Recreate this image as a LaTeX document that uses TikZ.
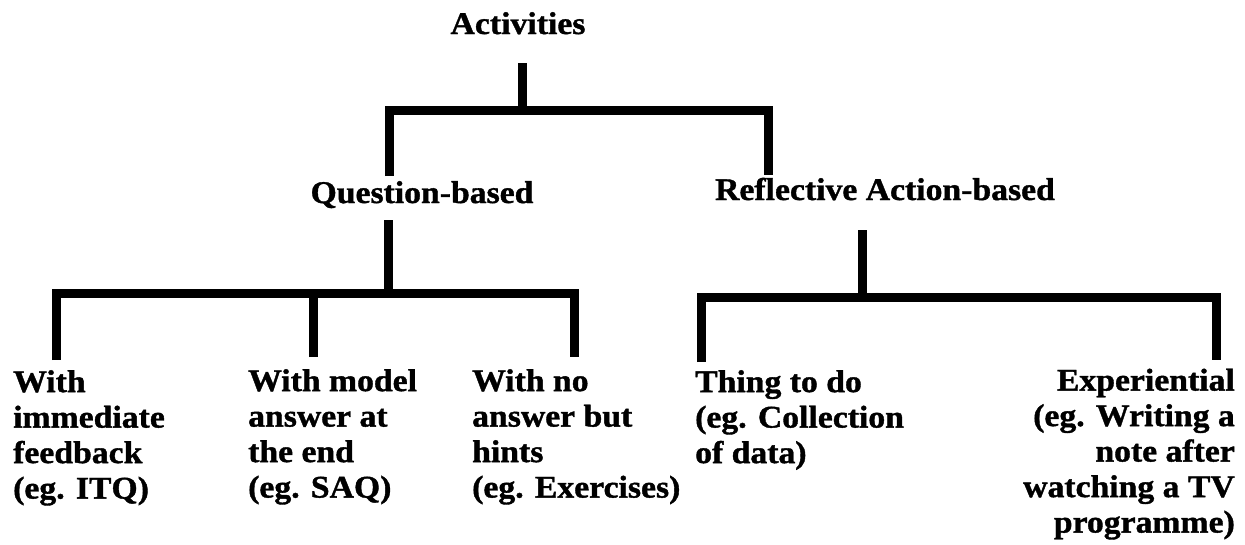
\documentclass[tikz,border=0pt]{standalone}
\usepackage{fontspec}
\setmainfont{Liberation Serif}[FakeStretch=1.07, BoldFeatures={FakeBold=1.2}]
\usetikzlibrary{positioning}
\tikzset{
    font=\fontsize{31.5}{35.5}\selectfont\bfseries,
    heading/.style={anchor=base, inner sep=0pt},
    leaf/.style={anchor=north west, align=left, inner sep=0pt},
    leafright/.style={anchor=north east, align=right, inner sep=0pt},
    stem/.style={line width=9pt},
    bracket/.style={line width=9pt, line join=miter}
}

\begin{document}
\begin{tikzpicture}[x=1pt, y=-1pt]

    % Page frame
    \path[fill=white, use as bounding box] (0,0) rectangle (1245,544);

    % Headings
    \node (act) [heading] at (518,34) {Activities};
    \node (qb)  [heading] at (422,203) {Question-based};
    \node (rab) [heading] at (885,200) {Reflective Action-based};

    % Leaves
    \node (itq)  [leaf] at (13,370)  {With\\immediate\\feedback\\(eg. ITQ)};
    \node (saq)  [leaf] at (248,369) {With model\\answer at\\the end\\(eg. SAQ)};
    \node (exer) [leaf] at (472,369) {With no\\answer but\\hints\\(eg. Exercises)};
    \node (todo) [leaf] at (695,370) {Thing to do\\(eg. Collection\\of data)};
    \node (expe) [leafright] at (1235,368.5) {Experiential\\(eg. Writing a\\note after\\watching a TV\\programme)};

    % Joints
    \coordinate (actFoot) at (522,63);
    \coordinate (actBar)  at (522,110);
    \coordinate (qbHead)  at (389,176);
    \coordinate (rabHead) at (768,175);

    \coordinate (qbFoot)  at (388,220);
    \coordinate (qbBar)   at (388,293);
    \coordinate (itqHead) at (56,360);
    \coordinate (saqHead) at (313,357);
    \coordinate (exerHead) at (574,357);

    \coordinate (rabFoot) at (862,230);
    \coordinate (rabBar)  at (862,297);
    \coordinate (todoHead) at (701,362);
    \coordinate (expeHead) at (1216,360);

    % Paths: Activities
    \draw [stem] (actFoot) -- (actBar);
    \draw [bracket] (qbHead) |- (actBar) -| (rabHead);

    % Paths: Question-based
    \draw [stem] (qbFoot) -- (qbBar);
    \draw [bracket] (itqHead) |- (qbBar) -| (exerHead);
    \draw [stem] (saqHead) -- (saqHead |- qbBar);

    % Paths: Reflective Action-based
    \draw [stem] (rabFoot) -- (rabBar);
    \draw [bracket] (todoHead) |- (rabBar) -| (expeHead);

\end{tikzpicture}
\end{document}
